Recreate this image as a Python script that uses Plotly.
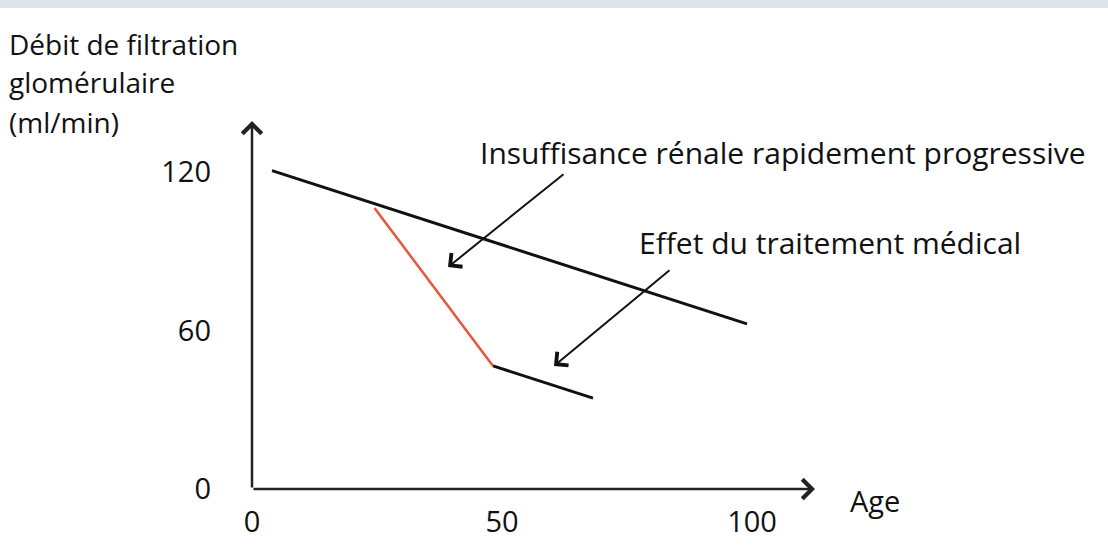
import plotly.graph_objects as go

# chart values (age in years, GFR in ml/min)
age_normal = [4, 99]
dfg_normal = [120.5, 62.5]

age_rapide = [24.5, 48.2]
dfg_rapide = [106.4, 46.6]

age_traite = [48.2, 68.2]
dfg_traite = [46.6, 34.4]

x_ticks = [0, 50, 100]
y_ticks = [0, 60, 120]

FONT = "Open Sans"
INK = "#111111"

W, H = 1108, 547
L, R, T, B = 252, 293, 121, 58
X_MAX = (W - L - R) / 5.0        # 5 px per year
Y_MAX = (H - T - B) / 2.642      # 2.642 px per ml/min


def px(x):
  return (x - L) / (W - L - R)


def py(y):
  return (H - B - y) / (H - T - B)


fig = go.Figure()

fig.add_trace(go.Scatter(x=age_normal, y=dfg_normal, mode="lines",
  line=dict(color="#111111", width=3), hoverinfo="skip"))
fig.add_trace(go.Scatter(x=age_rapide, y=dfg_rapide, mode="lines",
  line=dict(color="#e5563b", width=2.5), hoverinfo="skip"))
fig.add_trace(go.Scatter(x=age_traite, y=dfg_traite, mode="lines",
  line=dict(color="#111111", width=3), hoverinfo="skip"))

annotations = []

# axes drawn as arrows
annotations.append(dict(x=X_MAX, y=0, ax=0, ay=0, xref="x", yref="y", axref="x", ayref="y",
  showarrow=True, arrowhead=4, arrowsize=1.5, arrowwidth=2.5, arrowcolor="#222222", text=""))
annotations.append(dict(x=0, y=Y_MAX, ax=0, ay=0, xref="x", yref="y", axref="x", ayref="y",
  showarrow=True, arrowhead=4, arrowsize=1.5, arrowwidth=2.5, arrowcolor="#222222", text=""))

# pointer arrows
annotations.append(dict(x=39.2, y=84.0, ax=62.6, ay=119.6, xref="x", yref="y", axref="x", ayref="y",
  showarrow=True, arrowhead=4, arrowsize=1.7, arrowwidth=2, arrowcolor="#111111", text=""))
annotations.append(dict(x=60.4, y=46.6, ax=83.8, ay=83.3, xref="x", yref="y", axref="x", ayref="y",
  showarrow=True, arrowhead=4, arrowsize=1.7, arrowwidth=2, arrowcolor="#111111", text=""))

# texts
annotations.append(dict(x=px(478), y=py(152), xref="paper", yref="paper", xanchor="left", yanchor="middle",
  text="Insuffisance rénale rapidement progressive", showarrow=False,
  font=dict(family=FONT, size=30, color=INK)))
annotations.append(dict(x=px(637), y=py(242), xref="paper", yref="paper", xanchor="left", yanchor="middle",
  text="Effet du traitement médical", showarrow=False,
  font=dict(family=FONT, size=30, color=INK)))
annotations.append(dict(x=px(875), y=py(500), xref="paper", yref="paper", xanchor="center", yanchor="middle",
  text="Age", showarrow=False, font=dict(family=FONT, size=29, color=INK)))

for line, ypos in [("Débit de filtration", 44), ("glomérulaire", 82), ("(ml/min)", 122)]:
  annotations.append(dict(x=px(7), y=py(ypos), xref="paper", yref="paper", xanchor="left", yanchor="middle",
    text=line, showarrow=False, font=dict(family=FONT, size=28, color=INK)))

fig.update_layout(
  width=W, height=H,
  margin=dict(l=L, r=R, t=T, b=B),
  paper_bgcolor="white", plot_bgcolor="white",
  showlegend=False,
  annotations=annotations,
  shapes=[dict(type="rect", xref="paper", yref="paper", x0=px(0), x1=px(W), y0=py(0), y1=py(8),
    fillcolor="#dfe4ed", line=dict(width=0), layer="below")],
  xaxis=dict(range=[0, X_MAX], showgrid=False, zeroline=False, showline=False, automargin=False,
    tickvals=x_ticks, ticks="", ticklabelstandoff=13,
    tickfont=dict(family=FONT, size=29, color=INK)),
  yaxis=dict(range=[0, Y_MAX], showgrid=False, zeroline=False, showline=False, automargin=False,
    tickvals=y_ticks, ticks="", ticklabelstandoff=40,
    tickfont=dict(family=FONT, size=29, color=INK)),
)

fig.write_html("out.html", config={"displayModeBar": False},
  post_script="document.body.style.margin='0';")
